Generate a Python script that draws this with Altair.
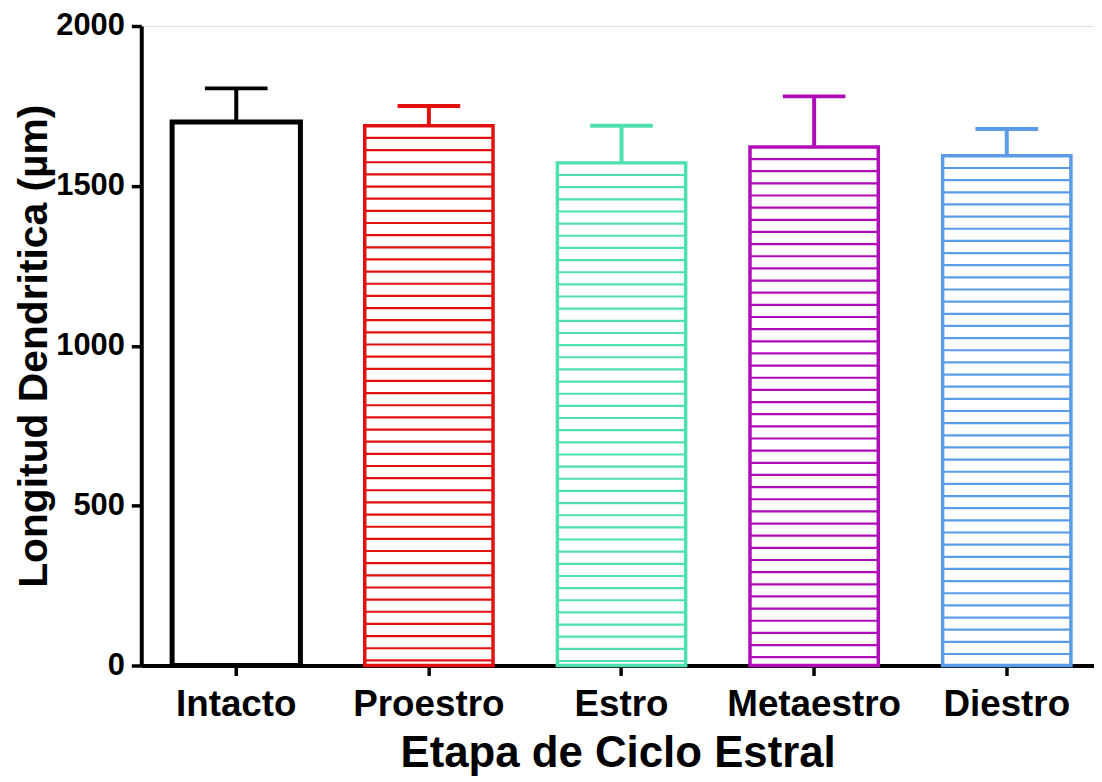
import altair as alt
import pandas as pd

categories = ["Intacto", "Proestro", "Estro", "Metaestro", "Diestro"]
means = [1700, 1688, 1572, 1622, 1594]
errors = [105, 62, 116, 158, 84]
colors = ["#000000", "#e31010", "#4fe0b0", "#b00cb8", "#5a9ce8"]
hatched = [False, True, True, True, True]
hatch_step = 38

df = pd.DataFrame({"cat": categories, "mean": means, "err": errors})
df["upper"] = df["mean"] + df["err"]

rows = []
for c, m, h in zip(categories, means, hatched):
    if not h:
        continue
    lvl = m - hatch_step
    while lvl > 8:
        rows.append({"cat": c, "lvl": lvl})
        lvl -= hatch_step
hatch_df = pd.DataFrame(rows)

FONT = "Liberation Sans"
xscale = alt.Scale(domain=categories, paddingInner=0.334, paddingOuter=0.14, align=0.572)
col = alt.Color("cat:N", scale=alt.Scale(domain=categories, range=colors), legend=None)

x = alt.X("cat:N", scale=xscale, sort=categories,
          axis=alt.Axis(title="Etapa de Ciclo Estral", labelAngle=0, labelFontSize=37,
                        labelFont=FONT, labelFontWeight="bold", labelColor="black",
                        titleFontSize=44, titleFont=FONT, titleFontWeight="bold",
                        titleColor="black", titlePadding=10, labelPadding=11,
                        tickSize=10, tickWidth=3.5, tickColor="black",
                        domainWidth=4, domainColor="black"))
y = alt.Y("mean:Q", scale=alt.Scale(domain=[0, 2000], nice=False),
          axis=alt.Axis(title="Longitud Dendritica (µm)", values=[0, 500, 1000, 1500, 2000],
                        format="d",
                        labelFontSize=31, labelFont=FONT, labelFontWeight="bold",
                        labelColor="black", titleFontSize=41, titleFont=FONT,
                        titleFontWeight="bold", titleColor="black", titlePadding=0,
                        labelPadding=7, tickSize=10, tickWidth=3.5, tickColor="black",
                        domainWidth=4, domainColor="black", grid=False))

base = alt.Chart(df)

stem = base.mark_rule(strokeWidth=4, opacity=1).encode(
    x=x, y=alt.Y("mean:Q"), y2="upper:Q", color=col)
cap = base.mark_tick(size=63, thickness=4, opacity=1).encode(
    x=x, y=alt.Y("upper:Q"), color=col)
hatch = alt.Chart(hatch_df).mark_tick(size=127, thickness=2.2, opacity=1).encode(
    x=x, y=alt.Y("lvl:Q"), color=col)
bars = base.mark_bar(fill="white", strokeWidth=3.5, opacity=1).encode(
    x=x, y=y, stroke=alt.Stroke("cat:N", scale=alt.Scale(domain=categories, range=colors), legend=None))
black_bar = base.transform_filter(alt.datum.cat == "Intacto").mark_bar(
    fill="white", stroke="black", strokeWidth=5, opacity=1).encode(x=x, y=y)

chart = alt.layer(stem, bars, black_bar, hatch, cap).properties(
    width=958, height=643,
    padding={"left": 6, "top": 0, "right": 0, "bottom": 0},
).configure_view(stroke=None).configure(background="white")

chart.save("out.html", embed_options={"renderer": "svg", "actions": False})
